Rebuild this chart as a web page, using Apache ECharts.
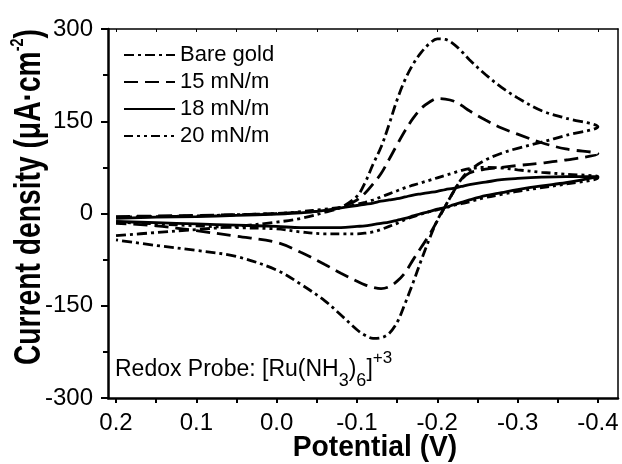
<!DOCTYPE html>
<html>
<head>
<meta charset="utf-8">
<script src="https://cdn.jsdelivr.net/npm/echarts@6/dist/echarts.min.js"></script>
<style>
html,body{margin:0;padding:0;background:#fff;}
#c{width:622px;height:464px;}
</style>
</head>
<body>
<div id="c"></div>
<script>
// Potential grid (V), shared by all branches
var potential = [0.2, 0.15, 0.1, 0.05, 0.0, -0.03, -0.06, -0.08, -0.1, -0.11, -0.12, -0.13, -0.14, -0.15, -0.16, -0.17, -0.18, -0.19, -0.2, -0.21, -0.22, -0.23, -0.24, -0.26, -0.28, -0.3, -0.33, -0.36, -0.4];

// Current density (uA/cm2): upper branch (with positive peak) and lower branch
var bareUpper = [-36, -31, -26, -21, -14, -8, 2, 10, 28, 50, 80, 108, 145, 185, 218, 243, 262, 276, 284, 283, 276, 264, 250, 226, 205, 188, 167, 155, 141];
var bareLower = [-43, -52, -60, -70, -92, -115, -142, -165, -189, -198, -203, -202, -195, -177, -146, -112, -76, -42, -11, 12, 35, 56, 70, 87, 98, 106, 116, 127, 141];

var mn15Upper = [-5, -4, -3, -2, 0, 2, 5, 10, 22, 33, 48, 65, 88, 112, 135, 155, 171, 181, 187, 186, 183, 176, 167, 152, 139, 129, 115, 105, 97];
var mn15Lower = [-16, -20, -28, -37, -47, -63, -83, -97, -110, -116, -120, -122, -119, -110, -96, -75, -55, -35, -12, 12, 35, 55, 66, 72, 75, 78, 82, 87, 97];

var mn18Upper = [-8, -6, -5, -3, -1, 1, 5, 9, 13, 15, 17, 20, 22, 24, 27, 30, 32, 34, 36, 39, 41, 44, 47, 51, 55, 57, 59, 60, 60];
var mn18Lower = [-13, -15, -17, -19, -21, -23, -23, -23, -21, -20, -18, -16, -14, -11, -8, -4, 0, 3, 7, 10, 14, 18, 22, 29, 34, 39, 45, 50, 59];

var mn20Upper = [-6, -5, -4, -2, 0, 3, 7, 10, 15, 18, 22, 27, 32, 37, 42, 46, 50, 54, 58, 62, 66, 70, 73, 75, 74, 71, 67, 64, 60];
var mn20Lower = [-14, -17, -20, -23, -25, -30, -33, -33, -33, -32, -30, -26, -21, -16, -10, -5, -1, 3, 6, 9, 13, 16, 19, 26, 31, 36, 42, 48, 58];

var seriesNames = ['Bare gold', '15 mN/m', '18 mN/m', '20 mN/m'];
var xTickLabels = [0.2, 0.1, 0.0, -0.1, -0.2, -0.3, -0.4];
var xTickMarks = [0.2, 0.15, 0.1, 0.05, 0.0, -0.05, -0.1, -0.15, -0.2, -0.25, -0.3, -0.35, -0.4];

function loop(upper, lower) {
  var d = [];
  for (var i = 0; i < potential.length; i++) d.push([potential[i], upper[i]]);
  for (var j = potential.length - 1; j >= 0; j--) d.push([potential[j], lower[j]]);
  return d;
}

var dashTypes = [[10, 4, 3, 4], [14, 7], 'solid', [9, 4, 3, 4, 3, 4]];
var dataSets = [loop(bareUpper, bareLower), loop(mn15Upper, mn15Lower), loop(mn18Upper, mn18Lower), loop(mn20Upper, mn20Lower)];

var font = 'Liberation Sans, Arial, sans-serif';
var chart = echarts.init(document.getElementById('c'), null, {renderer: 'canvas'});

var series = seriesNames.map(function (n, k) {
  return {
    name: n,
    type: 'line',
    data: dataSets[k],
    symbol: 'none',
    smooth: 0.35,
    xAxisIndex: 0,
    yAxisIndex: 0,
    lineStyle: {color: '#000', width: 2.8, type: dashTypes[k]},
    itemStyle: {color: '#000'}
  };
});

chart.setOption({
  animation: false,
  backgroundColor: '#fff',
  grid: {left: 108, right: 4, top: 29, bottom: 66},
  legend: {
    orient: 'vertical',
    left: 118,
    top: 39,
    itemWidth: 51,
    itemHeight: 14,
    itemGap: 5,
    itemStyle: {opacity: 0, borderWidth: 0},
    textStyle: {fontFamily: font, fontSize: 22, color: '#000'},
    data: seriesNames
  },
  xAxis: [{
    type: 'value',
    position: 'bottom',
    inverse: true,
    min: -0.425,
    max: 0.21,
    splitLine: {show: false},
    axisLine: {show: true, onZero: false, lineStyle: {color: '#000', width: 2.5}},
    axisTick: {show: true, inside: false, length: 5, customValues: xTickMarks, lineStyle: {color: '#000', width: 2}},
    axisLabel: {customValues: xTickLabels, margin: 13, fontFamily: font, fontSize: 24, color: '#000',
      formatter: function (v) { return v.toFixed(1); }}
  }, {
    type: 'value',
    position: 'top',
    inverse: true,
    min: -0.425,
    max: 0.21,
    splitLine: {show: false},
    axisLine: {show: true, onZero: false, lineStyle: {color: '#000', width: 1.5}},
    axisTick: {show: true, inside: true, length: 3, customValues: xTickMarks, lineStyle: {color: '#000', width: 1}},
    axisLabel: {show: false}
  }],
  yAxis: [{
    type: 'value',
    position: 'left',
    min: -300,
    max: 300,
    interval: 150,
    splitLine: {show: false},
    axisLine: {show: true, onZero: false, lineStyle: {color: '#000', width: 2.5}},
    axisTick: {show: true, inside: false, length: 7, lineStyle: {color: '#000', width: 2}},
    minorTick: {show: true, splitNumber: 2, length: 5, lineStyle: {color: '#000', width: 2}},
    axisLabel: {margin: 15, fontFamily: font, fontSize: 24, color: '#000'}
  }, {
    type: 'value',
    position: 'right',
    min: -300,
    max: 300,
    interval: 150,
    splitLine: {show: false},
    axisLine: {show: true, onZero: false, lineStyle: {color: '#000', width: 1.5}},
    axisTick: {show: false},
    axisLabel: {show: false}
  }],
  graphic: [{
    // y-axis title (condensed bold, rotated)
    type: 'text',
    x: 30,
    y: 197,
    rotation: Math.PI / 2,
    scaleX: 0.763,
    style: {
      text: '{t|Current density (μA·cm}{s|-2}{t|)}',
      align: 'center',
      verticalAlign: 'middle',
      rich: {
        t: {fontFamily: font, fontSize: 37, fontWeight: 'bold', fill: '#000', lineHeight: 44, verticalAlign: 'middle'},
        s: {fontFamily: font, fontSize: 19, fontWeight: 'bold', fill: '#000', lineHeight: 21, verticalAlign: 'top'}
      }
    }
  }, {
    // x-axis title
    type: 'text',
    x: 375,
    y: 448,
    scaleX: 0.94,
    style: {
      text: 'Potential (V)',
      align: 'center',
      verticalAlign: 'middle',
      fontFamily: font,
      fontSize: 30,
      fontWeight: 'bold',
      fill: '#000'
    }
  }, {
    type: 'text',
    left: 115,
    top: 350,
    style: {
      text: '{a|Redox Probe: [Ru(NH}{s|3}{a|)}{s|6}{a|]}{p|+3}',
      rich: {
        a: {fontFamily: font, fontSize: 23, lineHeight: 40, verticalAlign: 'middle', fill: '#000'},
        s: {fontFamily: font, fontSize: 18, lineHeight: 20, verticalAlign: 'bottom', fill: '#000'},
        p: {fontFamily: font, fontSize: 17, lineHeight: 19, verticalAlign: 'top', fill: '#000'}
      }
    }
  }],
  series: series
});
</script>
</body>
</html>
